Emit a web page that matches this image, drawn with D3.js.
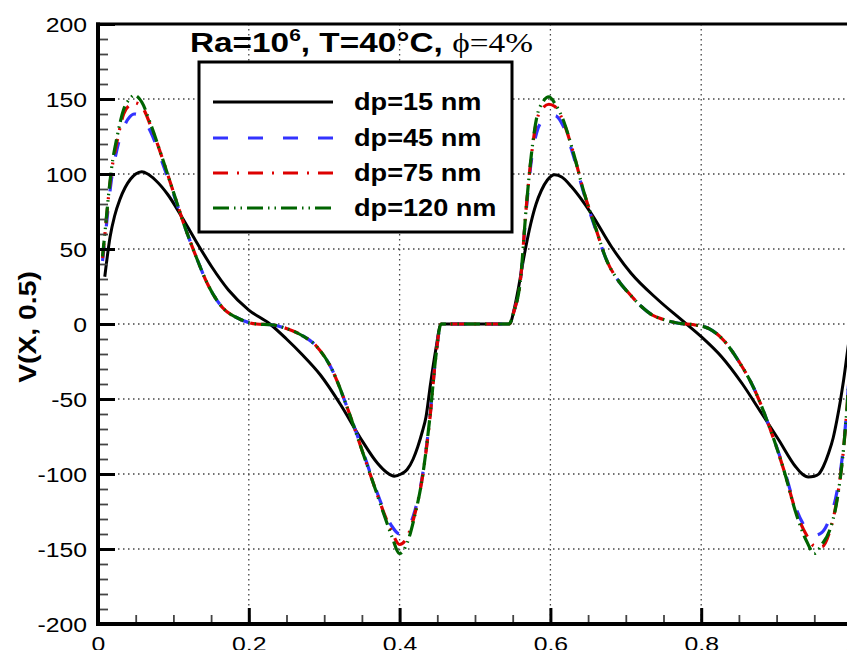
<!DOCTYPE html>
<html lang="en">
<head>
<meta charset="utf-8" />
<title>V(X, 0.5) profiles</title>
<script src="https://cdn.jsdelivr.net/npm/d3@7"></script>
<style>
  html, body { margin:0; padding:0; background:#fff; }
  svg text { font-family:"Liberation Sans", Arial, Helvetica, sans-serif; fill:#000; }
  .grid line { stroke:#444; stroke-width:1.3; stroke-dasharray:1.5 3.5; }
</style>
</head>
<body>
<div id="chart"></div>
<script>
// ---- data -----------------------------------------------------------------
const xTickVals   = [0, 0.2, 0.4, 0.6, 0.8, 1];
const xTickLabels = ["0", "0.2", "0.4", "0.6", "0.8", "1"];
const yTickVals   = [-200, -150, -100, -50, 0, 50, 100, 150, 200];
const gridX = [0.2, 0.4, 0.6, 0.8];
const gridY = [-150, -100, -50, 0, 50, 100, 150];
const seriesNames = ["dp=15 nm", "dp=45 nm", "dp=75 nm", "dp=120 nm"];

// dp = 15 nm (solid black)
const x15 = [0.009, 0.016, 0.022, 0.029, 0.036, 0.043, 0.05, 0.058, 0.066, 0.076,
             0.093, 0.111, 0.129, 0.151, 0.173, 0.2, 0.228, 0.25, 0.27, 0.295,
             0.322, 0.348, 0.371, 0.383, 0.393, 0.402, 0.41, 0.418, 0.424, 0.43,
             0.435, 0.441, 0.448, 0.455, 0.5, 0.546, 0.552, 0.558, 0.565, 0.574,
             0.581, 0.588, 0.596, 0.6055, 0.615, 0.628, 0.654, 0.681, 0.707, 0.743,
             0.774, 0.8, 0.827, 0.854, 0.88, 0.9025, 0.925, 0.934, 0.942, 0.95,
             0.956, 0.962, 0.969, 0.975, 0.98, 0.985, 0.989, 0.9955, 0.999];
const v15 = [31.5, 58, 72, 83, 91, 96.5, 100, 101.5, 100, 96,
             86, 71.5, 56, 38, 22.7, 9.3, 0, -10, -20, -34,
             -54, -76, -93, -99, -101.5, -100, -97, -90, -82, -72,
             -62, -40, -17, 0, 0, 0, 10, 25, 45, 67,
             80, 89, 96, 99.5, 98, 91.5, 73.8, 51.5, 33.8, 16,
             2.7, -8.4, -21.8, -39.5, -59.5, -77, -95, -100, -102, -101.5,
             -100, -95, -86, -76, -64, -50, -37, -13, -2];

// dp = 45, 75, 120 nm share the same x stations
const xDash = [0.006, 0.01, 0.014, 0.018, 0.025, 0.034, 0.042, 0.048, 0.058, 0.07,
               0.085, 0.1, 0.115, 0.13, 0.145, 0.165, 0.185, 0.21, 0.23, 0.25,
               0.27, 0.29, 0.31, 0.33, 0.35, 0.365, 0.38, 0.39, 0.4, 0.41,
               0.42, 0.43, 0.44, 0.448, 0.455, 0.5, 0.545, 0.552, 0.56, 0.568,
               0.575, 0.582, 0.59, 0.598, 0.606, 0.617, 0.63, 0.645, 0.66, 0.675,
               0.69, 0.705, 0.72, 0.735, 0.75, 0.77, 0.79, 0.81, 0.83, 0.85,
               0.87, 0.89, 0.91, 0.925, 0.94, 0.95, 0.96, 0.97, 0.98, 0.989,
               0.9935, 0.998];
const v45 = [42, 60, 80, 97, 116, 131, 138, 140, 138, 128,
             108, 87, 65, 45, 27, 11, 4, 0, -0.5, -3,
             -7.5, -15, -30, -55, -83, -105, -125, -135, -140, -137,
             -125, -102, -63, -22, 0, 0, 0, 9, 28, 76,
             110, 128, 136, 139, 139, 132, 113, 86, 63, 42,
             29, 20, 12, 6, 3, 0.5, -0.5, -3, -11, -25,
             -43, -68, -97, -122, -137, -141, -139, -130, -112, -80,
             -54, -18];
const v75 = [44, 64, 85, 102, 121, 140, 146, 147.5, 145, 132,
             111, 88, 65, 45, 27, 11, 4, 0, -0.5, -3,
             -7.5, -15, -30, -55, -84, -106, -127, -139, -147, -142,
             -127, -103, -64, -22, 0, 0, 0, 9, 28, 78,
             113, 136, 144, 146.5, 145, 135, 115, 87, 64, 42,
             29, 20, 12, 6, 3, 0.5, -0.5, -3, -11, -25,
             -43, -68, -98, -124, -141, -148, -148.5, -139, -117, -82,
             -55, -18];
const v120 = [45, 65, 86, 104, 124, 143, 150, 152.5, 148, 133,
              111, 88, 65, 45, 27, 11, 4, 0, -0.5, -3,
              -7.5, -15, -30, -55, -84, -106, -128, -142, -153, -146,
              -128, -103, -63, -22, 0, 0, 0, 9, 28, 78,
              114, 138, 148, 151.5, 147, 136, 115, 87, 64, 42,
              29, 20, 12, 6, 3, 0.5, -0.5, -3, -11, -25,
              -43, -68, -98, -125, -145, -153, -147, -138, -118, -82,
              -55, -18];

const seriesColors = ["#000000", "#3333ff", "#dd0000", "#006400"];
const seriesDash   = [null, "15,20", "15,9,2,9", "16,5,1.5,5,1.5,5"];

// ---- layout --------------------------------------------------------------
const W = 847, H = 650;
const SX = 1.18;               // the source fonts are rendered a bit wide

const x = d3.scaleLinear().domain([0, 1]).range([98, 852]);
const y = d3.scaleLinear().domain([-200, 200]).range([624, 24]);

const svg = d3.select("#chart").append("svg")
  .attr("width", W).attr("height", H)
  .style("display", "block");

svg.append("defs").append("clipPath").attr("id", "plotClip")
  .append("rect")
  .attr("x", x(0)).attr("y", y(200))
  .attr("width", x(1) - x(0)).attr("height", y(-200) - y(200));

// stretch a text horizontally about its anchor point
function stretch(sel, k) {
  sel.each(function () {
    const b = this.getBBox();
    const a = getComputedStyle(this).textAnchor;
    const ax = a === "end" ? b.x + b.width : a === "middle" ? b.x + b.width / 2 : b.x;
    this.setAttribute("transform", `translate(${ax},0) scale(${k},1) translate(${-ax},0)`);
  });
}

// grid
const grid = svg.append("g").attr("class", "grid");
grid.selectAll(".gx").data(gridX).join("line")
  .attr("x1", d => x(d)).attr("x2", d => x(d))
  .attr("y1", y(200)).attr("y2", y(-200));
grid.selectAll(".gy").data(gridY).join("line")
  .attr("x1", x(0)).attr("x2", x(1))
  .attr("y1", d => y(d)).attr("y2", d => y(d));

// curves
const line = d3.line()
  .x(d => x(d[0])).y(d => y(d[1]))
  .curve(d3.curveMonotoneX);

const seriesData = [
  d3.zip(x15, v15),
  d3.zip(xDash, v45),
  d3.zip(xDash, v75),
  d3.zip(xDash, v120)
];

const curves = svg.append("g").attr("clip-path", "url(#plotClip)");
curves.selectAll("path").data(seriesData).join("path")
  .attr("d", line)
  .attr("fill", "none")
  .attr("stroke", (d, i) => seriesColors[i])
  .attr("stroke-width", (d, i) => i === 0 ? 3 : 3.2)
  .attr("stroke-dasharray", (d, i) => seriesDash[i]);

// axes: minor ticks
svg.append("g")
  .attr("transform", `translate(${x(0)},0)`)
  .call(d3.axisLeft(y).tickValues(y.ticks(40)).tickSize(-10).tickFormat(""))
  .call(g => g.select(".domain").remove())
  .call(g => g.selectAll("line").attr("stroke", "#444").attr("stroke-width", 1.8));

svg.append("g")
  .attr("transform", `translate(0,${y(-200)})`)
  .call(d3.axisBottom(x).tickValues(x.ticks(20)).tickSize(-9).tickFormat(""))
  .call(g => g.select(".domain").remove())
  .call(g => g.selectAll("line").attr("stroke", "#444").attr("stroke-width", 1.8));

// axes: major ticks + labels
const yAxis = svg.append("g")
  .attr("transform", `translate(${x(0)},0)`)
  .call(d3.axisLeft(y).tickValues(yTickVals).tickSize(-17).tickPadding(11)
        .tickFormat(d => String(d)))
  .call(g => g.select(".domain").remove());
yAxis.selectAll("line").attr("stroke", "#000").attr("stroke-width", 3);
yAxis.selectAll("text").attr("font-size", 21).attr("dy", "0.34em")
  .style("font-family", "'Liberation Sans', Arial, sans-serif");
stretch(yAxis.selectAll("text"), SX);

const xAxis = svg.append("g")
  .attr("transform", `translate(0,${y(-200)})`)
  .call(d3.axisBottom(x).tickValues(xTickVals).tickSize(-16).tickPadding(12)
        .tickFormat((d, i) => xTickLabels[i]))
  .call(g => g.select(".domain").remove());
xAxis.selectAll("line").attr("stroke", "#000").attr("stroke-width", 3);
xAxis.selectAll("text").attr("font-size", 21)
  .style("font-family", "'Liberation Sans', Arial, sans-serif");
stretch(xAxis.selectAll("text"), SX);

// frame
const frame = svg.append("g").attr("stroke", "#000");
frame.append("line").attr("x1", x(0)).attr("x2", x(0))
  .attr("y1", y(200) - 1.5).attr("y2", y(-200) + 2).attr("stroke-width", 4);
frame.append("line").attr("x1", x(0) - 2).attr("x2", x(1))
  .attr("y1", y(-200)).attr("y2", y(-200)).attr("stroke-width", 4);
frame.append("line").attr("x1", x(0) - 2).attr("x2", x(1))
  .attr("y1", y(200)).attr("y2", y(200)).attr("stroke-width", 3);

// y label
svg.append("text")
  .attr("transform", "translate(28,327) rotate(-90) scale(1.18,1)")
  .attr("text-anchor", "middle").attr("dy", "0.35em")
  .attr("font-size", 24).attr("font-weight", "bold")
  .text("V(X, 0.5)");

// title
const title = svg.append("text")
  .attr("x", 190).attr("y", 52)
  .attr("font-size", 27).attr("font-weight", "bold");
title.append("tspan").text("Ra=10");
title.append("tspan").attr("font-size", 17).attr("dy", -11).text("6");
title.append("tspan").attr("dy", 11).text(", T=40°C, ");
title.append("tspan")
  .style("font-family", "'Liberation Serif', 'DejaVu Serif', serif")
  .attr("font-weight", "normal").attr("font-size", 27).text("ϕ=4%");
{
  const b = title.node().getBBox();
  const k = 343 / b.width;
  title.attr("transform", `translate(${b.x},0) scale(${k},1) translate(${-b.x},0)`);
}

// legend
const legend = svg.append("g");
legend.append("rect")
  .attr("x", 199).attr("y", 62).attr("width", 313).attr("height", 170)
  .attr("fill", "#fff").attr("stroke", "#000").attr("stroke-width", 3);
const rowY = [102, 138, 173, 208];
const rows = legend.selectAll(".row").data(seriesNames).join("g")
  .attr("transform", (d, i) => `translate(0,${rowY[i]})`);
rows.append("line")
  .attr("x1", 213).attr("x2", 333).attr("y1", 0).attr("y2", 0)
  .attr("stroke", (d, i) => seriesColors[i])
  .attr("stroke-width", (d, i) => i === 0 ? 3 : 3.2)
  .attr("stroke-dasharray", (d, i) => seriesDash[i]);
const labels = rows.append("text")
  .attr("x", 354).attr("y", 8)
  .attr("font-size", 23).attr("font-weight", "bold")
  .text(d => d);
stretch(labels, SX);
</script>
</body>
</html>
